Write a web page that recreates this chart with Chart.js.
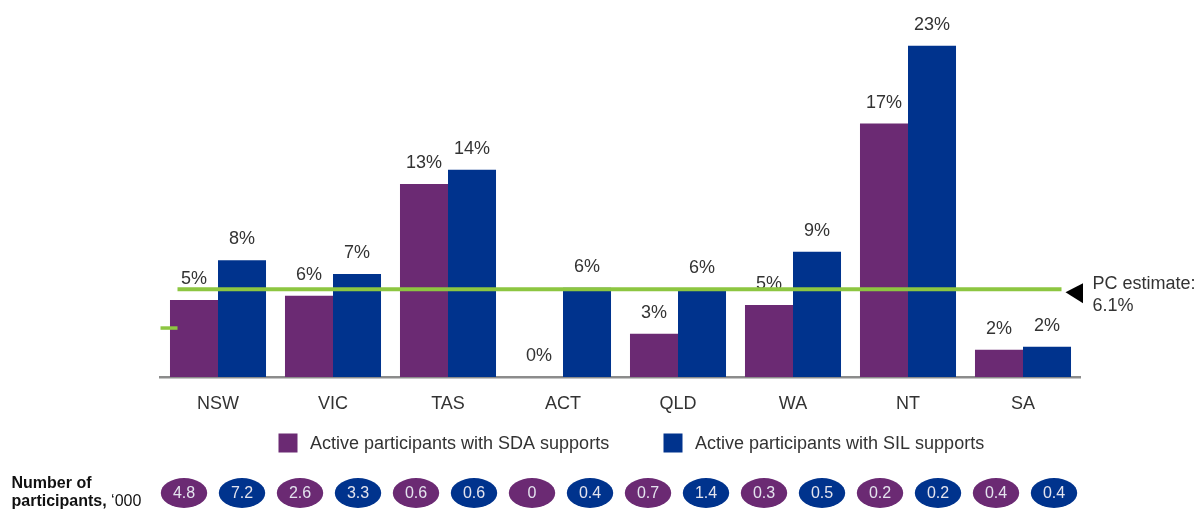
<!DOCTYPE html>
<html>
<head>
<meta charset="utf-8">
<script src="https://cdn.jsdelivr.net/npm/chart.js@4.4.1/dist/chart.umd.min.js"></script>
<style>
  body { margin: 0; background: #fff; }
</style>
</head>
<body>
<canvas id="chart" width="1203" height="510"></canvas>
<script>
// States in the order shown
const states = ['NSW', 'VIC', 'TAS', 'ACT', 'QLD', 'WA', 'NT', 'SA'];
// Share of active participants (%)
const sdaShare = [5.35, 5.65, 13.4, 0, 3.0, 5.0, 17.6, 1.9];
const silShare = [8.1, 7.15, 14.4, 6.2, 6.1, 8.7, 23.0, 2.1];
// Labels as printed above the bars
const sdaLabels = ['5%', '6%', '13%', '0%', '3%', '5%', '17%', '2%'];
const silLabels = ['8%', '7%', '14%', '6%', '6%', '9%', '23%', '2%'];
// Number of participants, '000
const sdaCounts = ['4.8', '2.6', '0.6', '0', '0.7', '0.3', '0.2', '0.4'];
const silCounts = ['7.2', '3.3', '0.6', '0.4', '1.4', '0.5', '0.2', '0.4'];
// PC estimate line and the small marker at the left edge
const pcEstimate = 6.1;
const leftMarker = 3.4;

const purple = '#6B2A73';
const blue = '#00338D';
const green = '#8DC641';
const fontFamily = '"Liberation Sans", Arial, sans-serif';

Chart.defaults.font.family = fontFamily;

// Draws value labels, the PC estimate line, legend and the participant bubbles
const annotations = {
    id: 'annotations',
    afterDatasetsDraw(chart) {
        const ctx = chart.ctx;
        const y = chart.scales.y;
        const area = chart.chartArea;
        ctx.save();

        // value labels above bars
        ctx.font = '18px ' + fontFamily;
        ctx.fillStyle = '#333';
        ctx.textAlign = 'center';
        ctx.textBaseline = 'alphabetic';
        [sdaLabels, silLabels].forEach((labels, d) => {
            chart.getDatasetMeta(d).data.forEach((bar, i) => {
                ctx.fillText(labels[i], bar.x, bar.y - 16);
            });
        });

        // PC estimate line
        const py = y.getPixelForValue(pcEstimate);
        ctx.strokeStyle = green;
        ctx.lineWidth = 4;
        ctx.beginPath();
        ctx.moveTo(area.left + 17, py);
        ctx.lineTo(area.right - 19, py);
        ctx.stroke();

        const my = y.getPixelForValue(leftMarker);
        ctx.lineWidth = 3.5;
        ctx.beginPath();
        ctx.moveTo(area.left, my);
        ctx.lineTo(area.left + 17, my);
        ctx.stroke();

        // pointer + text
        ctx.fillStyle = '#000';
        ctx.beginPath();
        ctx.moveTo(area.right - 15, py + 3);
        ctx.lineTo(area.right + 2.5, py - 6);
        ctx.lineTo(area.right + 2.5, py + 14);
        ctx.closePath();
        ctx.fill();

        ctx.fillStyle = '#333';
        ctx.textAlign = 'left';
        ctx.fillText('PC estimate:', area.right + 12, py);
        ctx.fillText(pcEstimate + '%', area.right + 12, py + 22);

        // legend
        const legend = [
            { color: purple, text: chart.data.datasets[0].label, x: 278.5 },
            { color: blue, text: chart.data.datasets[1].label, x: 663.5 }
        ];
        ctx.textBaseline = 'middle';
        legend.forEach(item => {
            ctx.fillStyle = item.color;
            ctx.fillRect(item.x, 433.5, 19, 19);
            ctx.fillStyle = '#333';
            ctx.fillText(item.text, item.x + 31.5, 444);
        });

        // participant bubbles
        ctx.textAlign = 'center';
        ctx.font = '16px ' + fontFamily;
        states.forEach((s, k) => {
            [[sdaCounts, purple], [silCounts, blue]].forEach(([counts, color], j) => {
                const cx = 184 + 58 * (2 * k + j);
                ctx.fillStyle = color;
                ctx.beginPath();
                ctx.ellipse(cx, 493, 23.2, 15, 0, 0, Math.PI * 2);
                ctx.fill();
                ctx.fillStyle = '#e4e4ee';
                ctx.fillText(counts[k], cx, 494);
            });
        });

        // row title
        ctx.textAlign = 'left';
        ctx.textBaseline = 'alphabetic';
        ctx.fillStyle = '#111';
        ctx.font = 'bold 16px ' + fontFamily;
        ctx.fillText('Number of', 11.5, 488);
        ctx.fillText('participants,', 11.5, 506);
        const w = ctx.measureText('participants, ').width;
        ctx.font = '16px ' + fontFamily;
        ctx.fillText('\u2018000', 11.5 + w, 506);

        ctx.restore();
    }
};

new Chart(document.getElementById('chart'), {
    type: 'bar',
    data: {
        labels: states,
        datasets: [{
            label: 'Active participants with SDA supports',
            data: sdaShare,
            backgroundColor: purple,
            barPercentage: 1,
            categoryPercentage: 0.835
        }, {
            label: 'Active participants with SIL supports',
            data: silShare,
            backgroundColor: blue,
            barPercentage: 1,
            categoryPercentage: 0.835
        }]
    },
    options: {
        responsive: false,
        animation: false,
        layout: {
            padding: { left: 160.5, right: 122.5, top: 17, bottom: 0 }
        },
        plugins: {
            legend: { display: false },
            tooltip: { enabled: false }
        },
        scales: {
            x: {
                grid: { display: false },
                border: { color: '#8c8c8c', width: 2.5 },
                ticks: {
                    color: '#333',
                    font: { size: 18 },
                    padding: 8
                },
                afterFit(scale) {
                    scale.height = 133;
                }
            },
            y: {
                display: false,
                min: 0,
                max: 25
            }
        }
    },
    plugins: [annotations]
});
</script>
</body>
</html>
